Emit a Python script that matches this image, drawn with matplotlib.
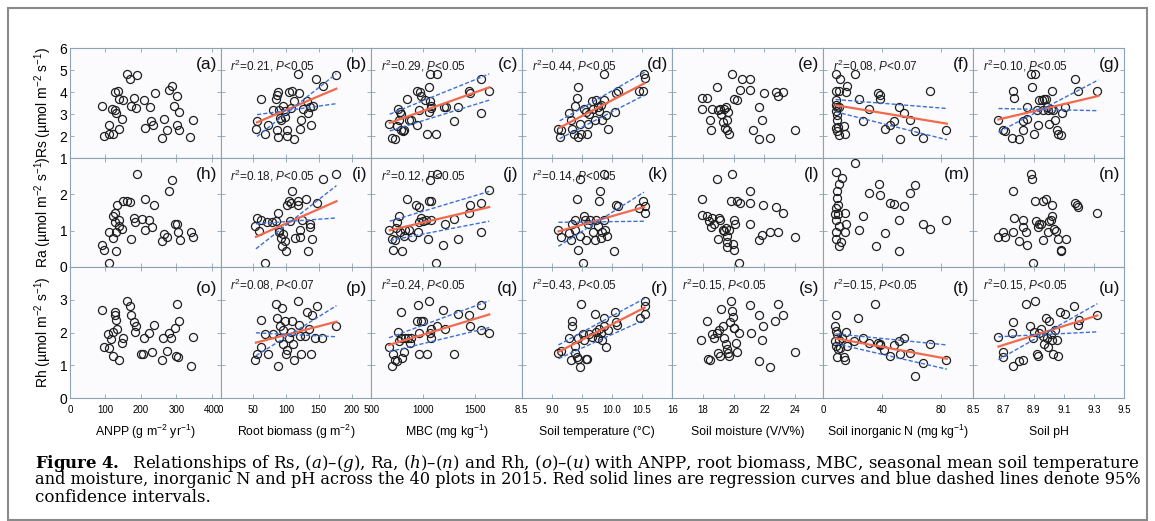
import matplotlib
matplotlib.use("Agg")
import matplotlib.pyplot as plt
from matplotlib.patches import Rectangle

plt.rcParams['font.family'] = ['Liberation Sans', 'DejaVu Sans']
plt.rcParams['mathtext.fontset'] = 'custom'
plt.rcParams['mathtext.rm'] = 'Liberation Sans'
plt.rcParams['mathtext.it'] = 'Liberation Sans:italic'
plt.rcParams['mathtext.bf'] = 'Liberation Sans:bold'

# ---- Rs row ----
a_x = [90, 97, 110, 111, 122, 119, 126, 130, 137, 128, 135, 137, 149, 148, 162, 169, 189, 172, 182, 186,
       210, 225, 228, 211, 234, 239, 265, 261, 274, 279, 288, 301, 294, 308, 302, 307, 340, 347]
a_y = [3.35, 1.98, 2.52, 2.08, 2.09, 3.23, 3.2, 3.05, 2.32, 3.98, 4.03, 3.68, 3.64, 2.77, 4.82, 4.59, 4.79, 3.38, 3.71, 3.27,
       3.65, 3.3, 2.67, 2.36, 2.48, 3.95, 2.77, 1.89, 2.29, 4.08, 4.29, 3.83, 3.35, 3.08, 2.52, 2.26, 1.95, 2.73]

b_x = [53.7, 55.7, 61.8, 68.5, 72.6, 80.2, 84.3, 86.4, 88.4, 88.9, 90.4, 86.9, 87.9, 92.5, 95.6, 98.1, 99.1, 101.7, 101.2,
       104.2, 107.3, 108.8, 111.4, 111.4, 119.0, 119.6, 122.1, 121.6, 125.2, 131.3, 133.9, 135.9, 138.5, 140.5, 146.1,
       156.4, 176.8]
b_y = [2.32, 2.67, 3.68, 2.11, 2.52, 3.2, 3.68, 3.88, 4.0, 3.2, 2.83, 2.26, 1.94, 2.74, 3.35, 2.85, 3.15, 2.29, 2.02,
       4.0, 3.27, 4.06, 3.61, 1.86, 4.8, 3.95, 2.74, 2.32, 3.24, 3.58, 3.05, 3.32, 2.5, 3.35, 4.59, 4.26, 4.79]

c_x = [672, 698, 730, 746, 762, 775, 791, 768, 788, 810, 820, 848, 864, 887, 944, 960, 938, 966, 982, 1014,
       1062, 1136, 1056, 1066, 1072, 1081, 1040, 1120, 1200, 1222, 1296, 1334, 1439, 1455, 1558, 1561, 1637, 1056]
c_y = [2.53, 1.92, 1.86, 2.44, 3.25, 3.1, 3.02, 2.72, 2.29, 2.23, 2.26, 3.66, 2.75, 2.72, 2.49, 3.18, 4.06, 4.02, 3.82, 3.63,
       4.81, 4.81, 4.24, 3.6, 3.36, 3.28, 2.08, 2.08, 3.33, 3.33, 2.69, 3.33, 4.06, 3.97, 4.58, 3.05, 4.06, 3.1]

d_x = [9.10, 9.16, 9.14, 9.29, 9.32, 9.34, 9.37, 9.39, 9.42, 9.43, 9.43, 9.46, 9.49, 9.53, 9.57, 9.58, 9.60, 9.62, 9.66,
       9.69, 9.71, 9.73, 9.76, 9.79, 9.82, 9.83, 9.86, 9.87, 9.90, 9.93, 10.05, 10.06, 10.10, 10.45, 10.52, 10.53, 10.54]
d_y = [2.34, 2.26, 1.95, 3.05, 2.72, 2.34, 2.08, 3.36, 3.71, 4.24, 1.95, 2.56, 2.08, 3.25, 3.1, 2.08, 2.56, 3.02, 3.6,
       3.25, 2.72, 3.63, 3.33, 3.15, 3.4, 2.72, 4.82, 3.63, 2.95, 2.34, 3.1, 3.94, 4.06, 4.06, 4.06, 4.82, 4.63]

e_x = [17.96, 18.24, 17.96, 18.46, 18.5, 18.61, 18.9, 18.99, 19.09, 19.2, 19.38, 19.48, 19.64, 19.53, 19.55, 19.7,
       19.33, 19.42, 19.86, 19.99, 20.18, 20.4, 20.53, 21.03, 21.08, 21.23, 21.95, 21.67, 21.82, 21.67, 22.39, 22.75,
       22.91, 23.2, 24.0]
e_y = [3.71, 3.71, 3.22, 2.72, 2.29, 3.22, 4.24, 3.18, 3.22, 3.02, 3.22, 3.33, 3.1, 2.72, 2.29, 2.08,
       2.64, 2.38, 4.81, 3.66, 3.63, 4.09, 4.58, 4.58, 4.09, 2.29, 3.94, 3.33, 2.72, 1.88, 1.92, 4.02,
       3.82, 4.02, 2.26]

f_x = [9.0, 21.6, 11.3, 16.4, 8.6, 10.8, 16.0, 9.2, 9.7, 9.2, 10.8, 9.7, 10.4, 9.7, 10.8, 14.6, 15.3, 24.3, 27.3, 31.5,
       37.2, 39.0, 38.5, 41.9, 45.3, 48.4, 51.4, 52.0, 55.2, 59.2, 62.6, 67.8, 72.7, 83.6, 9.2, 9.7, 8.8]
f_y = [4.81, 4.81, 4.58, 4.27, 4.06, 4.06, 4.02, 3.63, 3.33, 3.15, 3.33, 2.72, 2.41, 2.23, 2.03, 2.44, 2.08, 3.66, 2.69, 3.25,
       3.94, 3.66, 3.86, 2.34, 2.49, 2.69, 3.33, 1.88, 3.05, 2.72, 2.23, 1.92, 4.06, 2.26, 3.41, 2.95, 2.38]

g_x = [8.666, 8.699, 8.71, 8.755, 8.80, 8.765, 8.77, 8.827, 8.832, 8.858, 8.854, 8.88, 8.909, 8.89, 8.90, 8.92, 8.93,
       8.938, 8.954, 8.965, 8.97, 8.982, 8.987, 8.998, 9.004, 9.02, 9.013, 9.027, 9.042, 9.053, 9.064, 9.08, 9.086,
       9.108, 9.175, 9.197, 9.323]
g_y = [2.72, 2.29, 2.23, 1.92, 1.88, 4.06, 3.71, 2.29, 2.69, 3.33, 2.79, 4.82, 4.82, 4.24, 2.1, 3.18, 2.49,
       3.63, 3.63, 3.18, 3.66, 3.66, 3.33, 3.18, 2.56, 4.06, 3.25, 3.18, 2.75, 2.26, 2.1, 2.03, 3.05,
       3.33, 4.58, 4.06, 4.06]

# ---- Ra row ----
h_x = [90, 97, 110, 110, 121, 121, 126, 128, 130, 131, 133, 137, 137, 148, 151, 160, 169, 171, 182, 184,
       189, 202, 211, 211, 223, 232, 238, 259, 265, 274, 279, 288, 295, 301, 304, 310, 342, 346]
h_y = [0.61, 0.48, 0.11, 0.95, 0.8, 1.41, 1.5, 1.23, 0.95, 0.43, 1.72, 1.3, 1.14, 1.05, 1.81, 1.83, 1.78, 0.77, 1.35, 1.23,
       2.57, 1.32, 1.87, 1.01, 1.28, 1.1, 1.72, 0.71, 0.92, 0.83, 2.08, 2.4, 1.17, 1.19, 0.95, 0.73, 0.95, 0.83]

i_x = [53, 56, 59, 62, 68, 71, 79, 85, 87, 89, 90, 93, 94, 96, 98, 100, 102, 105, 109, 108,
       106, 113, 119, 119, 122, 122, 125, 130, 134, 136, 137, 140, 148, 156, 177]
i_y = [1.12, 1.35, 0.98, 1.3, 0.11, 1.23, 1.23, 1.26, 1.5, 1.03, 0.95, 0.8, 0.59, 0.92, 0.71, 0.43, 1.72, 1.81, 2.08, 1.76,
       1.26, 0.8, 1.81, 1.72, 0.83, 1.03, 1.28, 1.87, 0.43, 1.19, 1.1, 0.77, 1.76, 2.42, 2.57]

j_x = [672, 698, 730, 711, 743, 768, 752, 775, 794, 816, 826, 848, 864, 890, 928, 954, 960, 960, 976, 998,
       1024, 1050, 1056, 1072, 1062, 1136, 1072, 1120, 1190, 1216, 1296, 1334, 1446, 1455, 1558, 1561, 1637]
j_y = [1.01, 0.77, 0.73, 0.46, 1.07, 1.39, 1.23, 0.95, 0.43, 0.86, 1.01, 1.87, 1.03, 0.83, 1.72, 0.95, 1.65, 1.23, 1.35, 1.26,
       1.3, 0.77, 1.83, 1.81, 2.4, 2.57, 1.3, 0.11, 0.61, 1.19, 1.32, 0.77, 1.5, 1.72, 1.76, 0.95, 2.11]

k_x = [9.10, 9.16, 9.29, 9.32, 9.33, 9.38, 9.39, 9.42, 9.43, 9.46, 9.47, 9.51, 9.53, 9.55, 9.57, 9.60, 9.64, 9.68,
       9.71, 9.73, 9.76, 9.79, 9.80, 9.82, 9.83, 9.86, 9.87, 9.88, 9.91, 10.04, 10.06, 10.10, 10.45, 10.52, 10.54, 10.54]
k_y = [1.01, 0.83, 0.94, 0.73, 1.17, 1.3, 1.01, 1.87, 0.46, 2.42, 0.86, 0.11, 1.41, 1.28, 0.75, 1.17, 1.3, 0.95,
       0.73, 1.28, 1.12, 1.81, 2.08, 0.8, 0.95, 2.57, 1.28, 1.03, 0.86, 0.43, 1.72, 1.69, 1.62, 1.81, 1.69, 1.5]

l_x = [17.96, 17.96, 18.24, 18.4, 18.5, 18.61, 18.73, 18.9, 19.05, 18.99, 19.09, 19.27, 19.38, 19.48, 19.55, 19.71,
       19.59, 19.55, 19.86, 20.03, 20.07, 19.92, 20.03, 19.81, 20.2, 20.42, 20.36, 21.08, 21.08, 21.08, 21.88, 22.75,
       23.19, 21.67, 21.82, 22.39, 22.91, 23.99]
l_y = [1.87, 1.44, 1.39, 1.26, 1.1, 1.35, 1.17, 2.42, 1.35, 0.77, 1.28, 1.03, 0.98, 1.07, 0.86, 1.03,
       0.68, 0.55, 2.57, 1.3, 1.19, 0.64, 0.48, 1.81, 1.81, 1.76, 0.11, 2.08, 1.76, 1.19, 1.72, 1.65,
       1.5, 0.73, 0.89, 0.95, 0.95, 0.83]

m_x = [21.6, 9.0, 13.1, 10.8, 9.7, 10.1, 8.1, 10.4, 14.9, 9.0, 10.8, 16.0, 8.6, 15.3, 9.0, 12.4, 10.8, 24.3, 27.3, 31.3,
       36.0, 38.3, 39.0, 41.9, 45.3, 48.4, 51.8, 51.8, 55.2, 59.2, 62.6, 67.8, 72.7, 83.6, 9.7, 8.8]
m_y = [2.86, 2.61, 2.45, 2.28, 1.9, 1.72, 1.47, 1.47, 1.49, 1.28, 1.14, 1.19, 0.95, 0.95, 0.77, 0.68, 0.57, 1.01, 1.41, 2.04,
       0.57, 2.29, 1.99, 0.94, 1.76, 1.74, 1.3, 0.43, 1.69, 2.04, 2.27, 1.19, 1.05, 1.28, 2.08, 1.62]

n_x = [8.666, 8.699, 8.71, 8.761, 8.761, 8.77, 8.80, 8.827, 8.832, 8.85, 8.858, 8.88, 8.887, 8.898, 8.909, 8.916,
       8.927, 8.938, 8.947, 8.96, 8.96, 8.982, 8.998, 9.004, 9.02, 9.013, 9.022, 9.038, 9.049, 9.06, 9.08, 9.08,
       9.113, 9.175, 9.19, 9.197, 9.323]
n_y = [0.83, 0.95, 0.83, 2.08, 0.95, 1.35, 0.71, 1.3, 1.1, 0.95, 0.61, 2.57, 2.42, 0.11, 1.81, 1.26,
       1.1, 1.17, 1.19, 1.81, 0.73, 1.87, 0.95, 1.26, 1.72, 1.3, 1.41, 1.05, 0.98, 0.77, 0.48, 0.43,
       0.77, 1.76, 1.72, 1.65, 1.5]

# ---- Rh row ----
o_x = [90, 97, 108, 110, 117, 121, 120, 126, 128, 130, 133, 137, 146, 151, 162, 169, 171, 182, 187, 184,
       200, 207, 209, 223, 232, 238, 259, 263, 274, 279, 286, 295, 301, 307, 299, 305, 342, 346]
o_y = [2.7, 1.56, 1.96, 1.53, 1.8, 1.29, 2.02, 2.52, 2.64, 2.39, 2.11, 1.17, 1.69, 1.82, 2.97, 2.82, 2.54, 2.31, 2.21, 2.02,
       1.35, 1.35, 1.82, 1.99, 1.41, 2.23, 1.17, 1.82, 1.44, 1.99, 1.84, 2.15, 2.88, 2.36, 1.29, 1.25, 0.98, 1.87]

p_x = [53, 56, 61, 62, 68, 73, 80, 84, 86, 89, 88, 91, 94, 95, 96, 99, 100, 102, 104, 107,
       109, 110, 112, 119, 120, 122, 123, 129, 132, 135, 138, 140, 145, 148, 155, 177]
p_y = [1.17, 1.35, 1.56, 2.39, 1.96, 1.33, 1.96, 2.88, 2.45, 1.84, 0.98, 2.21, 2.76, 2.09, 1.66, 2.36, 1.35, 1.47, 1.84, 2.02,
       2.36, 1.66, 1.17, 2.97, 2.23, 1.9, 1.35, 1.9, 2.64, 2.11, 1.35, 2.52, 1.84, 2.82, 1.84, 2.21]

q_x = [672, 698, 730, 711, 752, 768, 762, 784, 791, 800, 816, 826, 858, 871, 887, 944, 954, 960, 960, 976,
       998, 1040, 1056, 1062, 1072, 1081, 1136, 1190, 1216, 1296, 1334, 1439, 1455, 1558, 1561, 1637]
q_y = [1.57, 0.98, 1.17, 1.35, 1.13, 1.74, 2.02, 1.82, 2.64, 1.23, 1.41, 1.82, 1.84, 1.69, 1.84, 2.36, 2.85, 1.99, 1.33, 2.36,
       2.36, 1.33, 2.97, 1.99, 1.84, 2.11, 2.21, 2.7, 2.11, 1.33, 2.55, 2.52, 2.21, 2.85, 2.09, 1.99]

r_x = [9.10, 9.16, 9.29, 9.32, 9.33, 9.34, 9.38, 9.39, 9.42, 9.43, 9.44, 9.47, 9.49, 9.51, 9.53, 9.57, 9.58, 9.62,
       9.66, 9.71, 9.73, 9.76, 9.79, 9.82, 9.83, 9.86, 9.87, 9.90, 9.93, 10.05, 10.06, 10.09, 10.46, 10.54, 10.54, 10.54]
r_y = [1.37, 1.45, 1.82, 1.17, 2.36, 2.21, 1.6, 1.37, 1.25, 1.82, 1.2, 0.96, 2.88, 1.96, 1.78, 1.2, 1.2, 1.96,
       1.87, 2.58, 2.02, 1.84, 2.11, 1.99, 1.78, 2.43, 2.21, 1.57, 2.09, 2.64, 2.31, 2.23, 2.43, 2.97, 2.82, 2.55]

s_x = [17.9, 18.24, 18.33, 18.46, 18.61, 18.73, 18.9, 18.99, 19.05, 19.12, 19.2, 19.27, 19.38, 19.48, 19.55, 19.64,
       19.71, 19.77, 19.81, 19.86, 19.92, 19.99, 20.03, 20.14, 20.2, 20.36, 21.08, 21.12, 21.67, 21.88, 21.82, 21.67,
       22.39, 22.69, 22.91, 23.19, 23.99]
s_y = [1.78, 2.36, 1.2, 1.17, 1.96, 1.82, 1.99, 1.37, 2.09, 1.29, 2.72, 2.21, 1.82, 1.66, 1.5, 1.37,
       1.29, 2.33, 2.97, 2.67, 2.48, 2.15, 2.15, 1.69, 1.41, 1.99, 2.85, 1.99, 2.52, 2.21, 1.78, 1.13,
       0.96, 2.36, 2.88, 2.52, 1.41]

t_x = [8.6, 7.9, 8.6, 9.7, 7.9, 10.8, 9.2, 10.1, 11.3, 9.7, 14.6, 15.3, 13.1, 16.0, 16.4, 21.4, 23.6, 27.3, 31.1, 35.6,
       37.2, 38.5, 39.0, 41.7, 45.3, 48.4, 51.4, 52.0, 54.7, 59.2, 62.6, 67.8, 72.7, 83.6]
t_y = [2.52, 2.21, 2.06, 1.96, 1.74, 1.78, 1.6, 1.5, 1.53, 1.25, 1.25, 1.17, 1.82, 2.02, 1.6, 1.74, 2.43, 1.82, 1.69, 2.88,
       1.69, 1.62, 1.66, 1.47, 1.29, 1.62, 1.74, 1.35, 1.84, 1.37, 0.67, 1.08, 1.66, 1.17]

u_x = [8.666, 8.699, 8.699, 8.755, 8.765, 8.761, 8.80, 8.827, 8.85, 8.909, 8.876, 8.894, 8.90, 8.92, 8.93, 8.938,
       8.949, 8.96, 8.97, 8.982, 8.987, 8.998, 9.004, 9.013, 9.02, 9.031, 9.042, 9.053, 9.06, 9.075, 9.108, 9.168,
       9.197, 9.204, 9.319]
u_y = [1.87, 1.41, 1.25, 1.99, 2.33, 0.98, 1.13, 1.17, 2.88, 2.97, 2.21, 1.84, 2.02, 1.35, 1.29, 1.99,
       2.11, 1.9, 1.66, 2.43, 1.84, 1.57, 2.36, 1.96, 1.78, 1.35, 2.09, 1.78, 1.29, 2.64, 2.58, 2.82,
       2.23, 2.39, 2.52]

# regression line ends: (x ends, red fit, blue dashed 1, blue dashed 2)
b_fit = ([55.7, 176.8], [2.62, 4.15], [2.97, 3.47], [1.98, 4.83])
c_fit = ([679, 1637], [2.6, 4.21], [2.99, 4.82], [2.23, 3.63])
d_fit = ([9.13, 10.54], [2.38, 4.4], [2.69, 4.9], [1.88, 3.86])
f_fit = ([8.6, 84], [3.4, 2.56], [3.66, 3.25], [3.1, 1.83])
g_fit = ([8.666, 9.33], [2.75, 3.82], [3.25, 3.15], [2.18, 4.55])
i_fit = ([54, 177], [0.83, 1.81], [1.19, 1.35], [0.5, 2.24])
j_fit = ([679, 1637], [1.01, 1.65], [1.26, 2.08], [0.73, 1.26])
k_fit = ([9.11, 10.53], [0.98, 1.65], [1.23, 1.26], [0.57, 2.06])
p_fit = ([54, 177], [1.69, 2.33], [1.99, 1.87], [1.29, 2.82])
q_fit = ([672, 1637], [1.62, 2.55], [1.84, 2.97], [1.41, 2.15])
r_fit = ([9.11, 10.54], [1.41, 2.76], [1.62, 3.04], [1.2, 2.39])
t_fit = ([8.6, 84], [1.82, 1.2], [1.96, 1.62], [1.66, 0.88])
u_fit = ([8.666, 9.323], [1.57, 2.52], [1.87, 2.02], [1.17, 2.88])

stats = {'b': ('0.21', '0.05'), 'c': ('0.29', '0.05'), 'd': ('0.44', '0.05'), 'f': ('0.08', '0.07'),
         'g': ('0.10', '0.05'), 'i': ('0.18', '0.05'), 'j': ('0.12', '0.05'), 'k': ('0.14', '0.05'),
         'p': ('0.08', '0.07'), 'q': ('0.24', '0.05'), 'r': ('0.43', '0.05'), 's': ('0.15', '0.05'),
         't': ('0.15', '0.05'), 'u': ('0.15', '0.05')}

x_titles = ['ANPP (g m$^{-2}$ yr$^{-1}$)', 'Root biomass (g m$^{-2}$)', 'MBC (mg kg$^{-1}$)',
            'Soil temperature (\u00b0C)', 'Soil moisture (V/V%)', 'Soil inorganic N (mg kg$^{-1}$)', 'Soil pH']
x_limits = [(0, 425), (0, 230), (500, 1950), (8.5, 11.0), (16, 25.8), (0, 102), (8.5, 9.5)]
x_ticks = [[0, 100, 200, 300, 400], [0, 50, 100, 150, 200], [500, 1000, 1500],
           [8.5, 9.0, 9.5, 10.0, 10.5], [16, 18, 20, 22, 24], [0, 40, 80], [8.5, 8.7, 8.9, 9.1, 9.3, 9.5]]
y_titles = ['Rs (\u00b5mol m$^{-2}$ s$^{-1}$)', 'Ra (\u00b5mol m$^{-2}$ s$^{-1}$)', 'Rh (\u00b5mol m$^{-2}$ s$^{-1}$)']
y_limits = [(1, 6), (0, 3), (0, 4)]
y_ticks = [[1, 2, 3, 4, 5, 6], [0, 1, 2], [0, 1, 2, 3]]

letters = 'abcdefghijklmnopqrstu'
data = {'a': (a_x, a_y), 'b': (b_x, b_y), 'c': (c_x, c_y), 'd': (d_x, d_y), 'e': (e_x, e_y), 'f': (f_x, f_y),
        'g': (g_x, g_y), 'h': (h_x, h_y), 'i': (i_x, i_y), 'j': (j_x, j_y), 'k': (k_x, k_y), 'l': (l_x, l_y),
        'm': (m_x, m_y), 'n': (n_x, n_y), 'o': (o_x, o_y), 'p': (p_x, p_y), 'q': (q_x, q_y), 'r': (r_x, r_y),
        's': (s_x, s_y), 't': (t_x, t_y), 'u': (u_x, u_y)}
fits = {'b': b_fit, 'c': c_fit, 'd': d_fit, 'f': f_fit, 'g': g_fit, 'i': i_fit, 'j': j_fit, 'k': k_fit,
        'p': p_fit, 'q': q_fit, 'r': r_fit, 't': t_fit, 'u': u_fit}

W, H = 1155, 521
fig = plt.figure(figsize=(W / 100, H / 100), dpi=100)
fig.patch.set_facecolor('white')

spine_col = '#8da2b2'
left, right = 70, 1124
col_w = (right - left) / 7
row_tops = [48, 158, 267]
row_bots = [158, 267, 398]

for r in range(3):
    for c in range(7):
        key = letters[r * 7 + c]
        x0 = left + c * col_w
        rh = row_bots[r] - row_tops[r]
        ax = fig.add_axes([x0 / W, 1 - row_bots[r] / H, col_w / W, rh / H])
        ax.set_facecolor('#fbfbfd')
        xs, ys = data[key]
        ax.plot(xs, ys, 'o', ms=5.8, mfc='none', mec='#1e1e1e', mew=0.9, zorder=3)
        if key in fits:
            fx, red, blue1, blue2 = fits[key]
            ax.plot(fx, red, color='#f26a4e', lw=1.6, zorder=4)
            ax.plot(fx, blue1, color='#3d6fd4', lw=1.0, ls=(0, (3, 1.5)), zorder=4)
            ax.plot(fx, blue2, color='#3d6fd4', lw=1.0, ls=(0, (3, 1.5)), zorder=4)
        # offsets in pixels from the panel top
        ty = 1 - 18 / rh
        ly = 1 - 16 / rh if r < 2 else 1 - 21 / rh
        if key in stats:
            r2, pv = stats[key]
            ax.text(0.065, ty, r'$r^2$=' + r2 + ', $P$<' + pv, transform=ax.transAxes,
                    fontsize=8.5, ha='left', va='center', color='#1e1e1e')
        ax.text(0.975, ly, '(' + key + ')', transform=ax.transAxes, fontsize=12.5,
                ha='right', va='center', color='#111111')
        ax.set_xlim(*x_limits[c])
        ax.set_ylim(*y_limits[r])
        ax.set_xticks(x_ticks[c])
        ax.set_yticks(y_ticks[r])
        ax.tick_params(direction='in', length=3, width=0.6, color=spine_col, top=True, right=True,
                       labelsize=7.0, pad=5)
        ax.tick_params(axis='y', labelsize=10, pad=2)
        for sp in ax.spines.values():
            sp.set_color(spine_col)
            sp.set_linewidth(0.8)
        if c != 0:
            ax.set_yticklabels([])
        if r != 2:
            ax.set_xticklabels([])
        else:
            fig.text((x0 + col_w / 2) / W, 1 - 432 / H, x_titles[c], ha='center', va='center', fontsize=8.8)

for r in range(3):
    yc = (row_tops[r] + row_bots[r]) / 2
    fig.text(43 / W, 1 - yc / H, y_titles[r], rotation=90, ha='center', va='center', fontsize=10)

# caption, each full line sized to span the width like the justified reference
cap_kw = dict(fontsize=11, family='DejaVu Serif', math_fontfamily='dejavuserif', ha='left', va='center')
cap1 = fig.text(35 / W, 1 - 463 / H,
                r'$\mathbf{Figure\ 4.}$  Relationships of Rs, ($\mathit{a}$)–($\mathit{g}$), Ra, ($\mathit{h}$)–($\mathit{n}$) '
                r'and Rh, ($\mathit{o}$)–($\mathit{u}$) with ANPP, root biomass, MBC, seasonal mean soil temperature',
                **cap_kw)
cap2 = fig.text(35 / W, 1 - 480 / H,
                'and moisture, inorganic N and pH across the 40 plots in 2015. Red solid lines are regression curves '
                'and blue dashed lines denote 95%', **cap_kw)
cap3 = fig.text(35 / W, 1 - 497 / H, 'confidence intervals.', **cap_kw)
fig.canvas.draw()
s1 = 11 * 1105 / cap1.get_window_extent().width
s2 = 11 * 1105 / cap2.get_window_extent().width
cap1.set_fontsize(s1)
cap2.set_fontsize(s2)
cap3.set_fontsize(s1)

fig.patches.append(Rectangle((8 / W, 1 / H), (1147 - 8) / W, (521 - 9) / H, transform=fig.transFigure,
                             fill=False, edgecolor='#8a8a8a', lw=1.5))

fig.savefig('out.png', dpi=100)
